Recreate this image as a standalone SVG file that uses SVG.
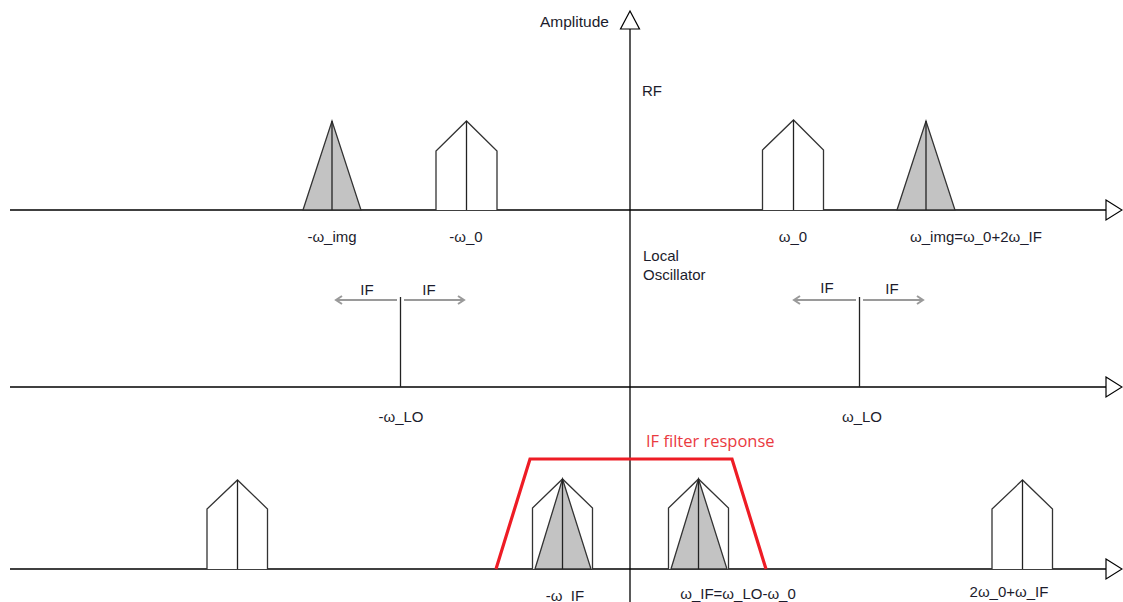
<svg xmlns="http://www.w3.org/2000/svg" width="1123" height="602" viewBox="0 0 1123 602">
<style>
.t{font-family:"Liberation Sans",Arial,sans-serif;font-size:15px;fill:#1c1c2c}
.tm{text-anchor:middle}
.ax{stroke:#000;stroke-width:1.3;fill:none}
.ah{stroke:#000;stroke-width:1.2;fill:#fff}
.house{stroke:#333;stroke-width:1.3;fill:#fff}
.tri{stroke:#333;stroke-width:1.3;fill:#c3c3c3}
.cl{stroke:#222;stroke-width:1.3}
.if{stroke:#9a9a9a;stroke-width:2;fill:none}
.red{stroke:#ee1c25;stroke-width:3.2;fill:none;stroke-linejoin:miter}
</style>
<rect width="1123" height="602" fill="#fff"/>
<g id="axes" class="connectors">
  <line class="ax" x1="630" y1="29" x2="630" y2="602"/>
  <polygon class="ah" points="630,11 620.5,29 639.5,29"/>
  <line class="ax" x1="10" y1="210" x2="1106" y2="210"/>
  <polygon class="ah" points="1106,200 1122,210 1106,220"/>
  <line class="ax" x1="10" y1="387" x2="1106" y2="387"/>
  <polygon class="ah" points="1106,377 1122,387 1106,397"/>
  <line class="ax" x1="10" y1="569" x2="1106" y2="569"/>
  <polygon class="ah" points="1106,559 1122,569 1106,579"/>
</g>
<g id="labels-axes">
  <text class="t" x="540" y="27" style="font-size:15.5px">Amplitude</text>
  <text class="t" x="642" y="96">RF</text>
  <text class="t" x="643" y="261">Local</text>
  <text class="t" x="643" y="280">Oscillator</text>
</g>
<g id="rf-neg-img">
  <polygon class="tri" points="303,210 332,121 361,210"/>
  <line class="cl" x1="332" y1="121" x2="332" y2="210"/>
  <text class="t tm" x="332" y="242">-ω_img</text>
</g>
<g id="rf-neg-0">
  <polyline class="house" points="436,210 436,151 466.5,121 497,151 497,210"/>
  <line class="cl" x1="466.5" y1="121" x2="466.5" y2="210"/>
  <text class="t tm" x="466" y="242">-ω_0</text>
</g>
<g id="rf-pos-0">
  <polyline class="house" points="762.5,210 762.5,150 793.5,120 823.5,150 823.5,210"/>
  <line class="cl" x1="793.5" y1="120" x2="793.5" y2="210"/>
  <text class="t tm" x="793" y="242">ω_0</text>
</g>
<g id="rf-pos-img">
  <polygon class="tri" points="897,210 926,121 955,210"/>
  <line class="cl" x1="926" y1="121" x2="926" y2="210"/>
  <text class="t tm" x="976" y="242">ω_img=ω_0+2ω_IF</text>
</g>
<g id="lo-neg">
  <line class="cl" x1="400.5" y1="297" x2="400.5" y2="387"/>
  <line class="if" x1="397" y1="300" x2="336" y2="300"/>
  <polyline class="if" points="342,296 336,300 342,304" stroke-width="1.3"/>
  <line class="if" x1="404" y1="300" x2="464" y2="300"/>
  <polyline class="if" points="458,296 464,300 458,304" stroke-width="1.3"/>
  <text class="t tm" x="367" y="295">IF</text>
  <text class="t tm" x="429" y="295">IF</text>
  <text class="t tm" x="401" y="422">-ω_LO</text>
</g>
<g id="lo-pos">
  <line class="cl" x1="859.5" y1="297" x2="859.5" y2="387"/>
  <line class="if" x1="856" y1="300" x2="794" y2="300"/>
  <polyline class="if" points="800,296 794,300 800,304" stroke-width="1.3"/>
  <line class="if" x1="863" y1="300" x2="923" y2="300"/>
  <polyline class="if" points="917,296 923,300 917,304" stroke-width="1.3"/>
  <text class="t tm" x="827" y="293">IF</text>
  <text class="t tm" x="892" y="294">IF</text>
  <text class="t tm" x="862" y="422">ω_LO</text>
</g>
<g id="if-filter">
  <polyline class="red" points="496,569 530,459 732,459 766,569"/>
  <text x="646" y="447" style="font-family:'Open Sans','Noto Sans',sans-serif;font-size:16.5px;fill:#ea3a3f">IF filter response</text>
</g>
<g id="out-neg-far">
  <polyline class="house" points="207,569 207,509 237.5,480 267.5,509 267.5,569"/>
  <line class="cl" x1="237.5" y1="480" x2="237.5" y2="569"/>
</g>
<g id="out-neg-if">
  <polyline class="house" points="532.5,569 532.5,508 562.5,479 592.5,508 592.5,569"/>
  <polygon class="tri" points="535,569 562.5,479 591,569"/>
  <line class="cl" x1="562.5" y1="479" x2="562.5" y2="569"/>
  <text class="t tm" x="565" y="601">-ω_IF</text>
</g>
<g id="out-pos-if">
  <polyline class="house" points="668.5,569 668.5,508 698.5,479 728.5,508 728.5,569"/>
  <polygon class="tri" points="671,569 698.5,479 727,569"/>
  <line class="cl" x1="698.5" y1="479" x2="698.5" y2="569"/>
  <text class="t tm" x="738" y="599">ω_IF=ω_LO-ω_0</text>
</g>
<g id="out-pos-far">
  <polyline class="house" points="992,569 992,509 1022.5,480 1052.5,509 1052.5,569"/>
  <line class="cl" x1="1022.5" y1="480" x2="1022.5" y2="569"/>
  <text class="t tm" x="1009" y="597">2ω_0+ω_IF</text>
</g>
</svg>
